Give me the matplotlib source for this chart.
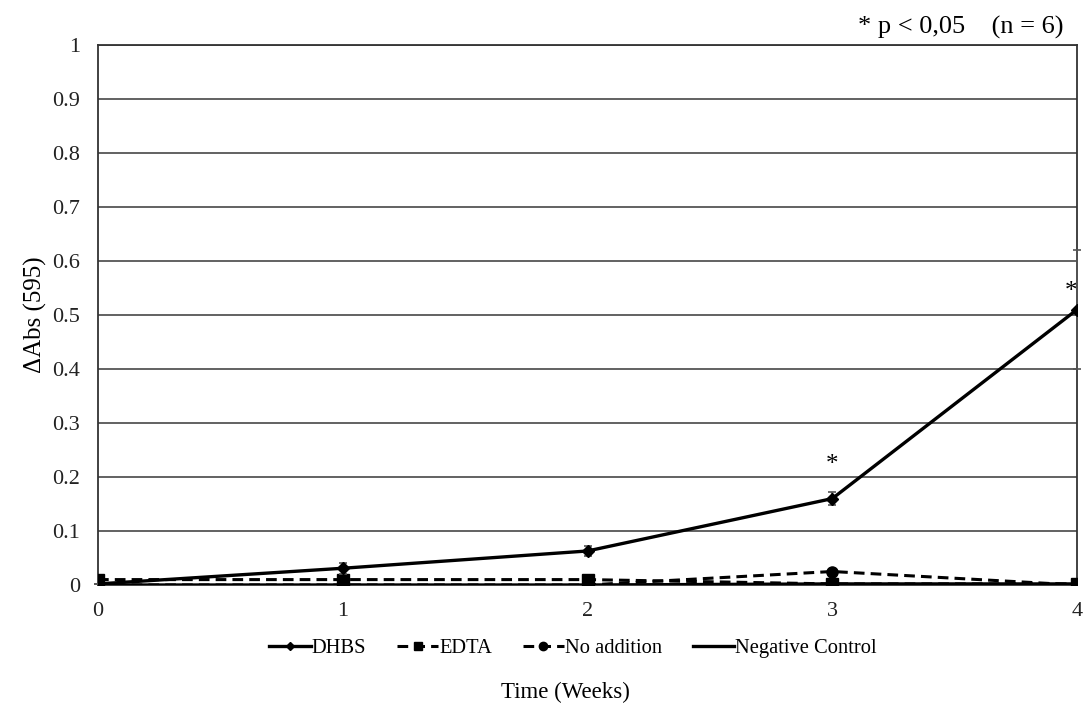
import matplotlib
matplotlib.use("Agg")
import matplotlib.pyplot as plt

plt.rcParams['font.family'] = ['Liberation Serif', 'DejaVu Serif']

weeks = [0, 1, 2, 3, 4]
dhbs = [0.002, 0.031, 0.063, 0.160, 0.510]
dhbs_err = [0.0, 0.010, 0.010, 0.012, 0.110]
edta = [0.010, 0.010, 0.010, 0.002, 0.002]
no_addition = [0.0, 0.0, 0.0, 0.025, 0.0]
negative_control = [0.0, 0.0, 0.0, 0.002, 0.002]
significant_weeks = [3, 4]
significant_heights = [0.222, 0.543]
y_ticks = [0, 0.1, 0.2, 0.3, 0.4, 0.5, 0.6, 0.7, 0.8, 0.9, 1]
y_tick_labels = ['0', '0.1', '0.2', '0.3', '0.4', '0.5', '0.6', '0.7', '0.8', '0.9', '1']

fig = plt.figure(figsize=(10.86, 7.11), dpi=100)
ax = fig.add_axes([98 / 1086, 1 - 585 / 711, (1077 - 98) / 1086, (585 - 45) / 711])

ax.plot(weeks, negative_control, color='black', lw=2.4, label='Negative Control', zorder=3)
ax.plot(weeks, no_addition, color='black', lw=2.2, ls=(0, (3.5, 2)), marker='o', ms=8,
        label='No addition', zorder=4)
ax.plot(weeks, edta, color='black', lw=2.2, ls=(0, (3.5, 2)), marker='s', ms=8,
        label='EDTA', zorder=4)
ax.errorbar(weeks, dhbs, yerr=dhbs_err, fmt='none', ecolor='#555555', elinewidth=1.2,
            capsize=3, capthick=1.2, zorder=5, clip_on=False)
ax.plot(weeks, dhbs, color='black', lw=2.4, marker='D', ms=6, label='DHBS', zorder=6)

# asterisks sit over the point; the last one is nudged inside the frame
for w, h in zip(significant_weeks, significant_heights):
    dx = -0.025 if w == weeks[-1] else 0.0
    ax.text(w + dx, h, '*', ha='center', va='center', fontsize=18)

ax.set_xlim(0, 4)
ax.set_ylim(0, 1)
ax.set_xticks(weeks)
ax.set_xticklabels([str(w) for w in weeks])
ax.set_yticks(y_ticks)
ax.set_yticklabels(y_tick_labels)
ax.tick_params(axis='both', length=0, labelsize=16, colors='#222222')
ax.tick_params(axis='x', pad=12)
ax.tick_params(axis='y', pad=13)
ax.grid(axis='y', color='#555555', lw=1.3)
ax.set_axisbelow(True)
for side in ['left', 'right', 'top', 'bottom']:
    ax.spines[side].set_color('#333333')
    ax.spines[side].set_linewidth(1.3)

ax.set_ylabel('ΔAbs (595)', fontsize=18, labelpad=4)

fig.text(1064 / 1086, 1 - 27 / 711, '* p < 0,05    (n = 6)', ha='right', va='center', fontsize=19)

handles, labels = ax.get_legend_handles_labels()
order = ['DHBS', 'EDTA', 'No addition', 'Negative Control']
hmap = dict(zip(labels, handles))
fig.legend([hmap[k] for k in order], order, loc='center', bbox_to_anchor=(573 / 1086, 1 - 648 / 711),
           ncol=4, frameon=False, fontsize=14.8, handlelength=2.0, handletextpad=0.05,
           columnspacing=1.5, markerscale=0.75)

fig.text(565 / 1086, 1 - 692 / 711, 'Time (Weeks)', ha='center', va='center', fontsize=16.5)

fig.savefig('out.png', dpi=100)
